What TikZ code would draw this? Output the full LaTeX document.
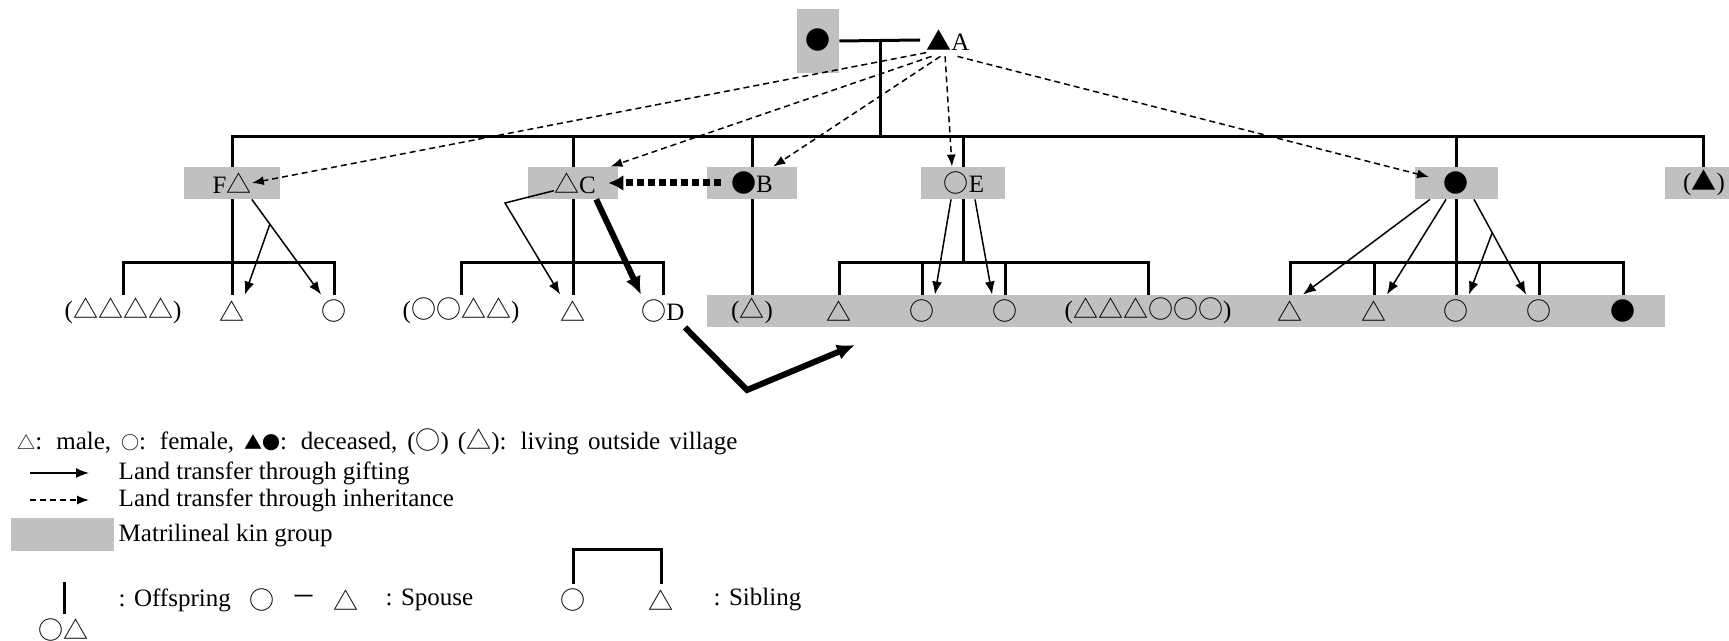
\documentclass[tikz,border=0pt]{standalone}
\usepackage{fontspec}
\setmainfont{Liberation Serif}
\newfontfamily\symfont{Noto Sans CJK JP}
\newcommand\keysym{\fontsize{9pt}{11pt}\symfont}
\usetikzlibrary{arrows.meta,calc}
\definecolor{kingray}{RGB}{192,192,192}
\tikzset{
  kinbox/.style={fill=kingray, inner sep=0pt, minimum height=16pt},
  person/.style={inner sep=0pt, minimum height=16pt},
  sym/.style={font=\symfont},
  kinline/.style={line width=1.5pt},
  gift/.style={line width=0.75pt, -{Latex[length=6.5pt,width=5pt]}},
  inherit/.style={line width=0.75pt, dash pattern=on 3pt off 2pt, -{Latex[length=6pt,width=4.5pt]}},
  bigmove/.style={line width=3pt, -{Latex[length=9pt,width=8pt]}},
  dotmove/.style={line width=3.5pt, dash pattern=on 3.5pt off 2pt, -{Latex[length=7.5pt,width=8pt]}}
}

\begin{document}
\fontsize{12.5pt}{15pt}\selectfont
\begin{tikzpicture}[x=0.5pt, y=-0.5pt]
\useasboundingbox (0,0) rectangle (1729,641);

\node[kinbox, minimum width=21pt, minimum height=32pt] (mother) at (818,41) {};
\node[kinbox, minimum width=48pt] (Fbox) at (232,183) {};
\node[kinbox, minimum width=45pt] (Cbox) at (573,183) {};
\node[kinbox, minimum width=45pt] (Bbox) at (752,183) {};
\node[kinbox, minimum width=42pt] (Ebox) at (963,183) {};
\node[kinbox, minimum width=41.5pt] (Wbox) at (1456,183) {};
\node[kinbox, minimum width=38pt] (Xbox) at (1703,183) {};
\node[kinbox, minimum width=479pt] (kinbar) at (1186,311) {};

\node[person, sym] (M) at (818,40) {●};
\node[person] (A) at (948,40) {{\symfont ▲}A};

\node[person] (F) at (232,183) {F{\symfont △}};
\node[person] (C) at (575,183) {{\symfont △}C};
\node[person] (B) at (752,183) {{\symfont ●}B};
\node[person] (E) at (964,183) {{\symfont ○}E};
\node[person, sym] (W) at (1456,183) {●};
\node[person] (X) at (1704,183) {({\symfont ▲})};

\node[person] (f1) at (123,311) {({\symfont △△△△})};
\node[person, sym] (f2) at (232,311) {△};
\node[person, sym] (f3) at (334,311) {○};

\node[person] (c1) at (461,311) {({\symfont ○○△△})};
\node[person, sym] (c2) at (573,311) {△};
\node[person] (D) at (663,311) {{\symfont ○}D};

\node[person] (b1) at (752,311) {({\symfont △})};

\node[person, sym] (e1) at (839,311) {△};
\node[person, sym] (e2) at (922,311) {○};
\node[person, sym] (e3) at (1005,311) {○};
\node[person] (e4) at (1148,311) {({\symfont △△△○○○})};

\node[person, sym] (w1) at (1290,311) {△};
\node[person, sym] (w2) at (1374,311) {△};
\node[person, sym] (w3) at (1456,311) {○};
\node[person, sym] (w4) at (1539,311) {○};
\node[person, sym] (w5) at (1623,311) {●};

\coordinate (sib0) at (880,137);
\coordinate (Cbend) at (505,203);
\coordinate (Dbend) at (747,390);
\coordinate (Dgoal) at (855,345);

\draw[kinline] (mother.east) -- ([xshift=-3pt]A.west);
\draw[kinline] (sib0) -- (sib0 |- mother.east);
\draw[kinline] (Fbox.north) |- (sib0) -| (Xbox.north);
\draw[kinline] (Cbox.north) -- (Cbox.north |- sib0);
\draw[kinline] (Bbox.north) -- (Bbox.north |- sib0);
\draw[kinline] (Ebox.north) -- (Ebox.north |- sib0);
\draw[kinline] (Wbox.north) -- (Wbox.north |- sib0);

\draw[kinline] (Fbox.south) -- (f2.north);
\draw[kinline] (f1.north) -- ++(0,-32) -| (f3.north);
\draw[kinline] (Cbox.south) -- (c2.north);
\draw[kinline] (c1.north) -- ++(0,-32) -| (D.north);
\draw[kinline] (Bbox.south) -- (b1.north);
\draw[kinline] (Ebox.south) -- ++(0,64);
\draw[kinline] (e1.north) -- ++(0,-32) -| (e4.north);
\draw[kinline] (e2.north) -- ++(0,-32);
\draw[kinline] (e3.north) -- ++(0,-32);
\draw[kinline] (Wbox.south) -- (w3.north);
\draw[kinline] (w1.north) -- ++(0,-32) -| (w5.north);
\draw[kinline] (w2.north) -- ++(0,-32);
\draw[kinline] (w4.north) -- ++(0,-32);

\draw[inherit] (A.210) -- (F.east);
\draw[inherit] (A.225) -- ([xshift=-4pt]Cbox.north east);
\draw[inherit] (A.245) -- (B.north east);
\draw[inherit] (A.260) -- ([xshift=-5.5pt]Ebox.north);
\draw[inherit] (A.300) -- ([xshift=-7pt,yshift=3pt]W.west);

\draw[gift] (F.south east) -- (f3.north west);
\draw[gift] ($(F.south east)!0.26!(f3.north west)$) -- (f2.north east);
\draw[gift] (C.200) -- (Cbend) -- (c2.north west);
\draw[gift] ([xshift=-6pt]Ebox.south) -- (e2.north east);
\draw[gift] ([xshift=6pt]Ebox.south) -- (e3.north west);
\draw[gift] ([xshift=-13pt]Wbox.south) -- (w1.north east);
\draw[gift] ([xshift=-5pt]Wbox.south) -- (w2.north east);
\draw[gift] ([xshift=9pt]Wbox.south) -- (w4.north west);
\draw[gift] ($([xshift=9pt]Wbox.south)!0.35!(w4.north west)$) -- (w3.north east);

\draw[dotmove] ([xshift=-5pt]B.west) -- ([xshift=-5pt]Cbox.east);
\draw[bigmove] (C.south east) -- (D.north west);
\draw[bigmove] (D.south east) -- (Dbend) -- (Dgoal);

\node[anchor=west, inner sep=0pt] (key) at (17,442) {\makebox[360pt][s]{{\keysym △}: male, {\keysym ○}: female, {\keysym ▲●}: deceased, ({\symfont ○}) ({\symfont △}): living outside village}};

\coordinate (gift0) at (30,473);
\coordinate (gift1) at (89,473);
\draw[gift] (gift0) -- (gift1);
\node[anchor=west] (giftkey) at (110,473) {Land transfer through gifting};

\coordinate (inh0) at (30,500);
\coordinate (inh1) at (89,500);
\draw[inherit] (inh0) -- (inh1);
\node[anchor=west] (inhkey) at (110,500) {Land transfer through inheritance};

\node[kinbox, minimum width=51.5pt, minimum height=16.5pt] (kinkey) at (62.5,534.5) {};
\node[anchor=west] (kinlabel) at (110,536) {Matrilineal kin group};

\node[person, sym] (offkey) at (64,630) {○△};
\draw[kinline] (offkey.north) -- ++(0,-32);
\node[anchor=west] (offlabel) at (110,600) {: Offspring};

\node[person, sym] (sp1) at (262,600) {○};
\node[person, sym] (sp2) at (304,600) {－};
\node[person, sym] (sp3) at (346,600) {△};
\node[anchor=west] (splabel) at (377,600) {: Spouse};

\node[person, sym] (sk1) at (573,600) {○};
\node[person, sym] (sk2) at (661,600) {△};
\draw[kinline] (sk1.north) -- ++(0,-34) -| (sk2.north);
\node[anchor=west] (sklabel) at (705,600) {: Sibling};

\end{tikzpicture}
\end{document}
